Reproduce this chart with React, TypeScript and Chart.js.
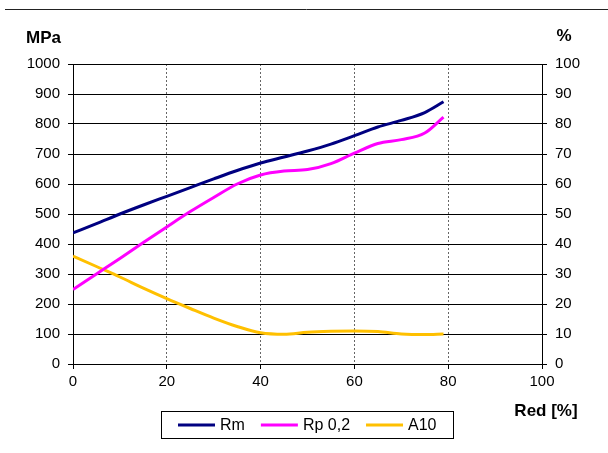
import React, { useEffect, useRef } from "react";
import { Chart, registerables } from "chart.js";

Chart.register(...registerables);

const xValues = [0, 5, 10, 15, 20, 25, 30, 35, 40, 45, 50, 55, 60, 65, 70, 75, 79];
const rmValues = [437, 468, 500, 530, 559, 588, 617, 645, 670, 690, 710, 733, 761, 790, 812, 838, 874];
const rpValues = [248, 300, 352, 405, 457, 508, 555, 600, 630, 643, 648, 668, 703, 735, 748, 770, 823];
const a10Values = [36, 32.5, 29, 25.3, 21.8, 18.5, 15.3, 12.5, 10.4, 9.9, 10.6, 10.9, 11, 10.8, 10, 9.8, 10];

const seriesLabels = ["Rm", "Rp 0,2", "A10"];
const seriesColors = ["#000080", "#FF00FF", "#FFC000"];

const leftAxisTitle = "MPa";
const rightAxisTitle = "%";
const xAxisTitle = "Red [%]";

const FONT = '"Liberation Sans", Arial, sans-serif';

const decorPlugin = {
  id: "decor",
  afterDraw(chart: any) {
    const ctx = chart.ctx as CanvasRenderingContext2D;
    ctx.save();
    // top rule
    ctx.strokeStyle = "#222";
    ctx.lineWidth = 1;
    ctx.beginPath();
    ctx.moveTo(5, 9.5);
    ctx.lineTo(608, 9.5);
    ctx.stroke();

    // axis titles
    ctx.fillStyle = "#000";
    ctx.font = `bold 17px ${FONT}`;
    ctx.textBaseline = "middle";
    ctx.textAlign = "left";
    ctx.fillText(leftAxisTitle, 26, 38);
    ctx.textAlign = "center";
    ctx.fillText(rightAxisTitle, 564, 36);
    ctx.fillText(xAxisTitle, 546, 411);

    // legend
    const bx = 161, by = 411, bw = 292, bh = 27;
    ctx.strokeStyle = "#000";
    ctx.lineWidth = 1;
    ctx.strokeRect(bx + 0.5, by + 0.5, bw, bh);
    ctx.font = `16px ${FONT}`;
    ctx.textAlign = "left";
    let x = bx + 17;
    const cy = by + 14;
    chart.data.datasets.forEach((ds: any) => {
      ctx.strokeStyle = ds.borderColor;
      ctx.lineWidth = 3;
      ctx.beginPath();
      ctx.moveTo(x, cy);
      ctx.lineTo(x + 37, cy);
      ctx.stroke();
      x += 42;
      ctx.fillStyle = "#000";
      ctx.fillText(ds.label, x, cy + 0.5);
      x += ctx.measureText(ds.label).width + 16;
    });
    ctx.restore();
  },
};

const plain = (v: any) => String(v);

export default function App() {
  const ref = useRef<HTMLCanvasElement>(null);
  useEffect(() => {
    if (!ref.current) return;
    const mk = (vals: number[]) => xValues.map((x, i) => ({ x, y: vals[i] }));
    const chart = new Chart(ref.current, {
      type: "line",
      data: {
        datasets: [
          { label: seriesLabels[0], data: mk(rmValues), borderColor: seriesColors[0], yAxisID: "y" },
          { label: seriesLabels[1], data: mk(rpValues), borderColor: seriesColors[1], yAxisID: "y" },
          { label: seriesLabels[2], data: mk(a10Values), borderColor: seriesColors[2], yAxisID: "y1" },
        ].map((d) => ({
          ...d,
          borderWidth: 3,
          pointRadius: 0,
          fill: false,
          tension: 0.4,
          cubicInterpolationMode: "monotone" as const,
        })),
      },
      options: {
        animation: false,
        responsive: true,
        maintainAspectRatio: false,
        layout: { padding: { top: 64, left: 0, right: 0, bottom: 0 } },
        plugins: { legend: { display: false }, tooltip: { enabled: false } },
        scales: {
          x: {
            type: "linear",
            min: 0,
            max: 100,
            ticks: { stepSize: 20, color: "#000", font: { family: FONT, size: 15 }, padding: 4, maxRotation: 0, callback: plain },
            grid: { color: "#666", tickLength: 5, tickColor: "#000" },
            border: { color: "#000", width: 1, dash: [2, 2] },
            afterFit(scale: any) {
              scale.height = 89;
            },
          },
          y: {
            type: "linear",
            position: "left",
            min: 0,
            max: 1000,
            ticks: { stepSize: 100, color: "#000", font: { family: FONT, size: 15 }, padding: 8, callback: plain },
            grid: { color: "#000", tickLength: 5 },
            border: { color: "#000", width: 1 },
            afterFit(scale: any) {
              scale.width = 73;
            },
          },
          y1: {
            type: "linear",
            position: "right",
            min: 0,
            max: 100,
            ticks: { stepSize: 10, color: "#000", font: { family: FONT, size: 15 }, padding: 8, callback: plain },
            grid: { drawOnChartArea: false, color: "#000", tickLength: 5 },
            border: { color: "#000", width: 1 },
            afterFit(scale: any) {
              scale.width = 66;
            },
          },
        },
      },
      plugins: [decorPlugin],
    });
    return () => chart.destroy();
  }, []);
  return (
    <div style={{ position: "fixed", left: 0, top: 0, width: 608, height: 453, background: "#fff" }}>
      <canvas ref={ref} />
    </div>
  );
}
